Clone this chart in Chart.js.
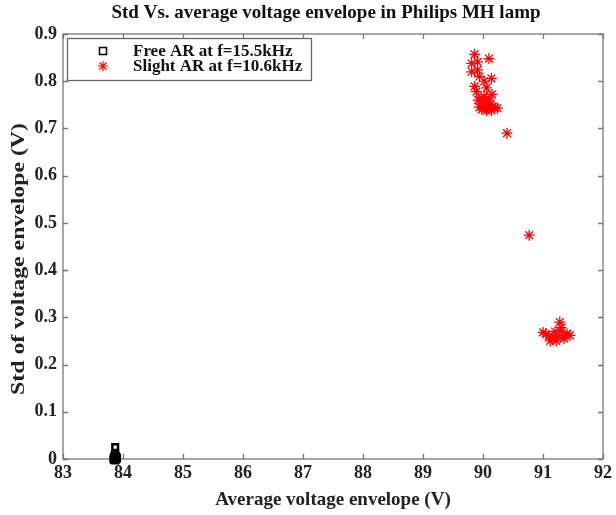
<!DOCTYPE html>
<html><head><meta charset="utf-8">
<script src="https://cdn.jsdelivr.net/npm/chart.js@4/dist/chart.umd.min.js"></script>
<style>html,body{margin:0;padding:0;background:#fff}#wrap{width:616px;height:515px}</style>
</head><body><div id="wrap"><canvas id="c" width="616" height="515"></canvas></div>
<script>
const chartTitle = "Std Vs. average voltage envelope in Philips MH lamp";
const xTitle = "Average voltage envelope (V)";
const yTitle = "Std of voltage envelope (V)";
const seriesNames = ["Free AR at f=15.5kHz", "Slight AR at f=10.6kHz"];
const freeX = [83.87, 83.85, 83.87, 83.89, 83.86, 83.88, 83.84, 83.90, 83.87, 83.86, 83.88, 83.87, 83.85, 83.89];
const freeY = [0.025, 0.004, 0.002, 0.000, -0.002, 0.006, 0.000, 0.002, -0.003, 0.008, -0.001, 0.010, -0.002, 0.004];
const slightX = [89.86, 90.10, 89.81, 89.91, 89.91, 89.81, 89.94, 90.14, 90.02, 89.86, 90.06, 90.15, 89.89, 89.97,
  89.92, 89.96, 90.00, 90.04, 90.08, 90.12, 90.16, 90.20, 90.24, 89.98, 90.06, 90.10, 89.94, 90.02, 90.14,
  90.40, 90.77,
  91.05, 91.10, 91.15, 91.20, 91.25, 91.30, 91.35, 91.40, 91.45, 91.28, 91.30, 91.20, 91.12, 91.35, 91.00, 91.22];
const slightY = [0.857, 0.848, 0.838, 0.841, 0.824, 0.820, 0.810, 0.806, 0.800, 0.789, 0.786, 0.772, 0.778, 0.764,
  0.760, 0.752, 0.745, 0.755, 0.742, 0.750, 0.746, 0.744, 0.743, 0.740, 0.738, 0.760, 0.745, 0.768, 0.738,
  0.690, 0.474,
  0.265, 0.260, 0.255, 0.258, 0.262, 0.270, 0.262, 0.265, 0.262, 0.290, 0.278, 0.270, 0.250, 0.255, 0.268, 0.250];
const xTicks = [83, 84, 85, 86, 87, 88, 89, 90, 91, 92];
const yTicks = [0, 0.1, 0.2, 0.3, 0.4, 0.5, 0.6, 0.7, 0.8, 0.9];

const toPts = (xs, ys) => xs.map((x, i) => ({x: x, y: ys[i]}));
const FONT = "'Liberation Serif', 'Times New Roman', serif";

const framePlugin = {
  id: 'frame',
  beforeDatasetsDraw(chart) {
    const {ctx, chartArea: a, scales} = chart;
    ctx.save();
    ctx.strokeStyle = '#777';
    ctx.lineWidth = 1.3;
    ctx.strokeRect(a.left, a.top, a.right - a.left, a.bottom - a.top);
    ctx.beginPath();
    const tl = 5;
    xTicks.forEach(v => {
      const px = Math.round(scales.x.getPixelForValue(v)) + 0.5;
      ctx.moveTo(px, a.bottom); ctx.lineTo(px, a.bottom - tl);
      ctx.moveTo(px, a.top); ctx.lineTo(px, a.top + tl);
    });
    yTicks.forEach(v => {
      const py = Math.round(scales.y.getPixelForValue(v)) + 0.5;
      ctx.moveTo(a.left, py); ctx.lineTo(a.left + tl, py);
      ctx.moveTo(a.right, py); ctx.lineTo(a.right - tl, py);
    });
    ctx.stroke();
    ctx.restore();
  },
  afterDatasetsDraw(chart) {
    const {ctx} = chart;
    ctx.save();
    // title
    ctx.fillStyle = '#111';
    ctx.font = "bold 19px " + FONT;
    ctx.textAlign = 'center';
    ctx.textBaseline = 'middle';
    ctx.fillText(chartTitle, 326, 13);
    // y axis title (stretched along its length like the reference)
    ctx.save();
    ctx.translate(19, 259);
    ctx.rotate(-Math.PI / 2);
    ctx.scale(1.25, 1);
    ctx.fillStyle = '#222';
    ctx.fillText(yTitle, 0, 0);
    ctx.restore();
    // legend
    const lx = 67, ly = 38, lw = 244, lh = 42;
    ctx.fillStyle = '#fff';
    ctx.fillRect(lx, ly, lw, lh);
    ctx.strokeStyle = '#666';
    ctx.lineWidth = 1.3;
    ctx.strokeRect(lx + 0.5, ly + 0.5, lw, lh);
    ctx.font = "bold 17px " + FONT;
    ctx.textAlign = 'left';
    const rows = [51, 66];
    const mx = 103;
    chart.data.datasets.forEach((ds, i) => {
      ctx.strokeStyle = ds.borderColor;
      ctx.beginPath();
      if (i === 0) {
        ctx.lineWidth = 1.5;
        ctx.rect(mx - 3.5, rows[i] - 3.5, 7, 7);
      } else {
        ctx.lineWidth = 1.2;
        const r = 5;
        for (let k = 0; k < 4; k++) {
          const ang = k * Math.PI / 4;
          ctx.moveTo(mx - r * Math.cos(ang), rows[i] - r * Math.sin(ang));
          ctx.lineTo(mx + r * Math.cos(ang), rows[i] + r * Math.sin(ang));
        }
      }
      ctx.stroke();
      ctx.fillStyle = '#111';
      ctx.fillText(ds.label, 133, rows[i] + 1);
    });
    ctx.restore();
  }
};

new Chart(document.getElementById('c'), {
  type: 'scatter',
  data: {
    datasets: [
      {label: seriesNames[0], data: toPts(freeX, freeY), clip: false, pointStyle: 'rect', pointRadius: 4, borderColor: '#000', backgroundColor: 'rgba(0,0,0,0)', borderWidth: 2.5},
      {label: seriesNames[1], data: toPts(slightX, slightY), clip: false, pointStyle: 'star', pointRadius: 5.5, borderColor: '#ff0000', backgroundColor: '#ff0000', borderWidth: 1.3}
    ]
  },
  options: {
    responsive: false,
    animation: false,
    events: [],
    layout: {padding: {top: 34, right: 12, left: 0, bottom: 0}},
    plugins: {legend: {display: false}, tooltip: {enabled: false}, title: {display: false}},
    scales: {
      x: {
        type: 'linear', min: 83, max: 92,
        afterFit: s => { s.height = 56; },
        afterBuildTicks: s => { s.ticks = xTicks.map(v => ({value: v})); },
        grid: {display: false, drawTicks: false},
        border: {display: false},
        ticks: {color: '#222', font: {family: FONT, size: 18, weight: 'bold'}, padding: 4, maxRotation: 0},
        title: {display: true, text: xTitle, color: '#222', font: {family: FONT, size: 19, weight: 'bold'}, padding: {top: 0, bottom: 4}}
      },
      y: {
        type: 'linear', min: 0, max: 0.9,
        afterFit: s => { s.width = 63; },
        afterBuildTicks: s => { s.ticks = yTicks.map(v => ({value: v})); },
        grid: {display: false, drawTicks: false},
        border: {display: false},
        ticks: {color: '#222', font: {family: FONT, size: 18, weight: 'bold'}, padding: 6, callback: v => String(Math.round(v * 10) / 10)},
        title: {display: false, text: yTitle}
      }
    }
  },
  plugins: [framePlugin]
});
</script></body></html>
